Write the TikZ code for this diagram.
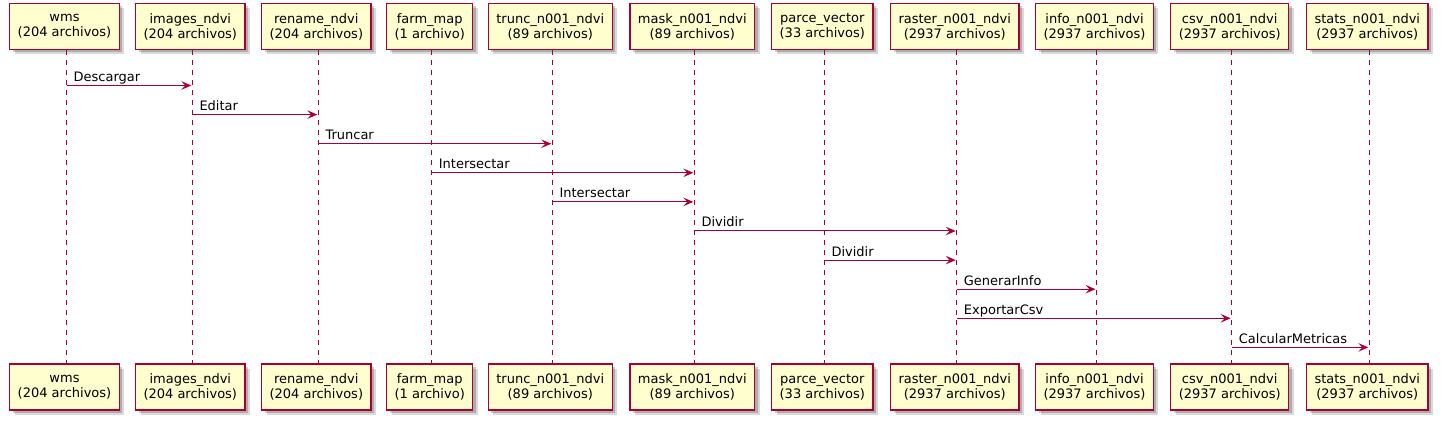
\documentclass[tikz,border=0pt]{standalone}
\usepackage{fontspec}
\setmainfont{DejaVu Sans}
\usetikzlibrary{arrows.meta,shadows,calc}
\definecolor{pBorder}{HTML}{A80036}
\definecolor{pFill}{HTML}{FEFECE}
\begin{document}
\begin{tikzpicture}[x=1pt,y=-1pt,
  part/.style={draw=pBorder, line width=1.3pt, fill=pFill, minimum height=46pt, inner xsep=8pt, inner ysep=3pt, align=center,
    font=\fontsize{13}{15}\selectfont,
    drop shadow={shadow xshift=5pt, shadow yshift=-5pt, opacity=0.15, fill=black},
    drop shadow={shadow xshift=3pt, shadow yshift=-3pt, opacity=0.2, fill=black}},
  life/.style={draw=pBorder, line width=1pt, dash pattern=on 5pt off 5pt},
  msg/.style={draw=pBorder, line width=1pt, -{Stealth[length=10pt,width=8.5pt,inset=4pt]}},
  lbl/.style={anchor=base west, inner sep=0pt, font=\fontsize{13}{15}\selectfont}]
\path[use as bounding box, fill=white] (0,0) rectangle (1441,422);
\foreach \n/\a/\b/\x in {
  p1/wms/204 archivos/66.5,
  p2/images\_ndvi/204 archivos/192.3,
  p3/rename\_ndvi/204 archivos/318.3,
  p4/farm\_map/1 archivo/431.7,
  p5/trunc\_n001\_ndvi/89 archivos/552.3,
  p6/mask\_n001\_ndvi/89 archivos/694.3,
  p7/parce\_vector/33 archivos/824.3,
  p8/raster\_n001\_ndvi/2937 archivos/956.7,
  p9/info\_n001\_ndvi/2937 archivos/1096.5,
  p10/csv\_n001\_ndvi/2937 archivos/1231.7,
  p11/stats\_n001\_ndvi/2937 archivos/1369.3}{
  \coordinate (\n-l) at (\x,0);
  \node[part] (\n-t) at (\x-2,26.5) {\a\\(\b)};
  \node[part] (\n-b) at (\x-2,387) {\a\\(\b)};
  \draw[life] (\n-t.south -| \n-l) -- (\n-b.north -| \n-l);
}
\foreach \s/\t/\l/\y in {
  p1/p2/Descargar/85.5,
  p2/p3/Editar/114.6,
  p3/p5/Truncar/143.7,
  p4/p6/Intersectar/172.8,
  p5/p6/Intersectar/201.9,
  p6/p8/Dividir/231,
  p7/p8/Dividir/260.1,
  p8/p9/GenerarInfo/289.2,
  p8/p10/ExportarCsv/318.3,
  p10/p11/CalcularMetricas/347.4}{
  \draw[msg] ($(\s-l)+(0,\y)$) -- ($(\t-l)+(-1,\y)$);
  \node[lbl] at ($(\s-l)+(7,\y-4)$) {\l};
}
\end{tikzpicture}
\end{document}
